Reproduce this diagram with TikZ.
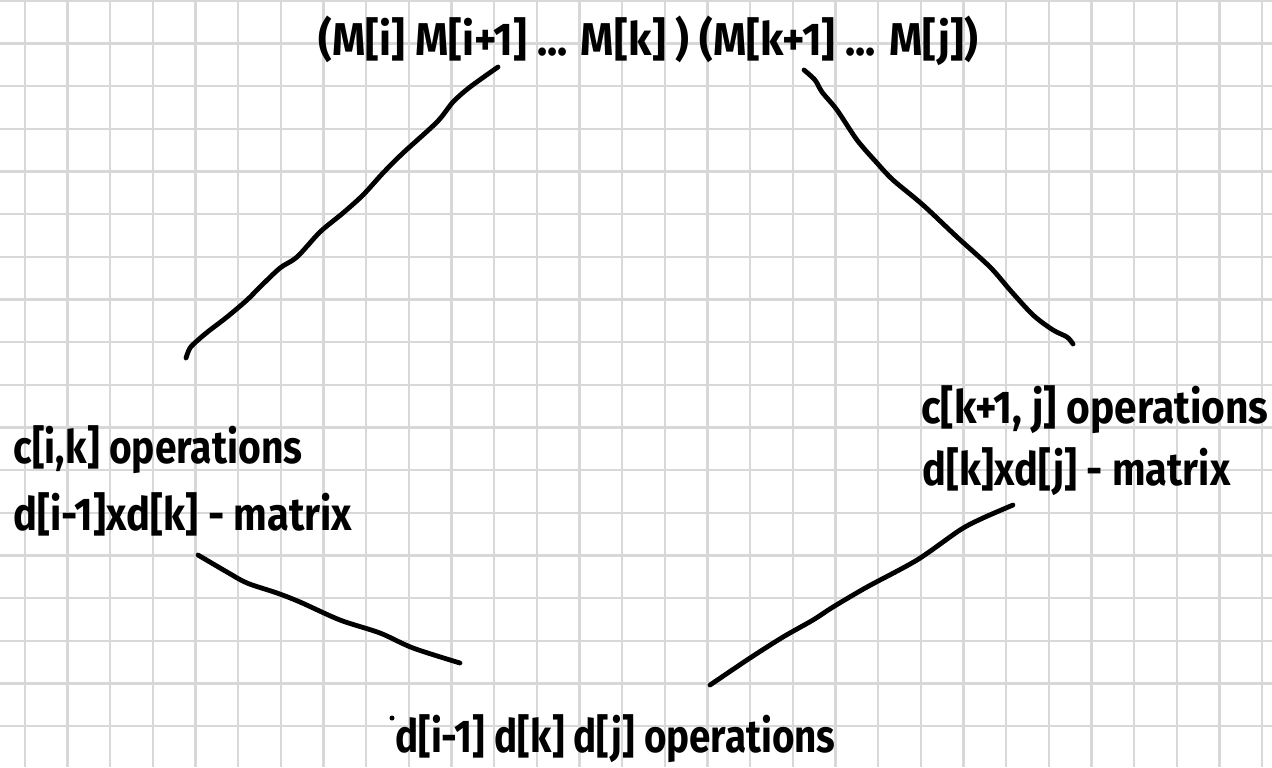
\documentclass[tikz,border=0pt]{standalone}
\usepackage{fontspec}
\setmainfont{Fira Sans}
\usepackage{graphicx}
\newlength\fitlen
\newcommand\fitw[2]{\settowidth\fitlen{#2}\scalebox{\fpeval{(#1)/(\fitlen)}}[1]{#2}}
\definecolor{gridc}{RGB}{216,216,216}
\tikzset{
  gridline/.style={draw=gridc, line width=1.2pt},
  lbl/.style={inner sep=0pt, anchor=base west, font=\fontsize{23}{27}\selectfont\bfseries, text=black},
  stroke/.style={draw=black, line width=2.4pt, line cap=round, line join=round}
}
\begin{document}
\begin{tikzpicture}[x=0.5pt, y=-0.5pt]
\useasboundingbox (0,0) rectangle (1272,767);
\fill[white] (0,0) rectangle (1272,767);
\foreach \i in {0,...,29} \draw[gridline] ({24.7+42.67*\i},0) -- ({24.7+42.67*\i},767);
\foreach \i in {0,...,17} \draw[gridline] (0,{0.7+42.67*\i}) -- (1272,{0.7+42.67*\i});

\node[lbl] (top) at (318,55) {\fitw{330}{(M[i] M[i+1] ... M[k] ) (M[k+1] ... M[j])}};
\node[lbl] (lops) at (13,463) {\fitw{144.5}{c[i,k] operations}};
\node[lbl] (lmat) at (13,530) {\fitw{169.5}{d[i-1]xd[k] - matrix}};
\node[lbl] (rops) at (921,423) {\fitw{173.5}{c[k+1, j] operations}};
\node[lbl] (rmat) at (922,485) {\fitw{154}{d[k]xd[j] - matrix}};
\node[lbl] (bot) at (395,752) {\fitw{220}{d[i-1] d[k] d[j] operations}};
\fill (392,718) circle (2.5);

\coordinate (a1) at (498,67);
\coordinate (a2) at (186,358);
\coordinate (b1) at (804,70);
\coordinate (b2) at (1073,344);
\coordinate (c1) at (198,555);
\coordinate (c2) at (460,663);
\coordinate (d1) at (1013,505);
\coordinate (d2) at (710,685);

\draw[stroke] plot[smooth, tension=0.5] coordinates {(a1) (470,87) (453,102) (437,122) (403,153) (383,173) (363,195) (343,213) (320,232) (297,257) (280,268) (260,287) (247,300) (227,317) (210,330) (198,340) (190,348) (a2)};
\draw[stroke] plot[smooth, tension=0.5] coordinates {(b1) (815,80) (822,92) (837,110) (857,140) (877,163) (893,180) (923,205) (957,237) (990,267) (1010,290) (1033,315) (1053,330) (1067,337) (b2)};
\draw[stroke] plot[smooth, tension=0.5] coordinates {(c1) (227,572) (247,583) (277,593) (300,602) (340,620) (380,633) (413,648) (c2)};
\draw[stroke] plot[smooth, tension=0.5] coordinates {(d1) (983,518) (960,530) (917,560) (867,587) (833,607) (813,620) (783,637) (750,658) (d2)};
\end{tikzpicture}
\end{document}
